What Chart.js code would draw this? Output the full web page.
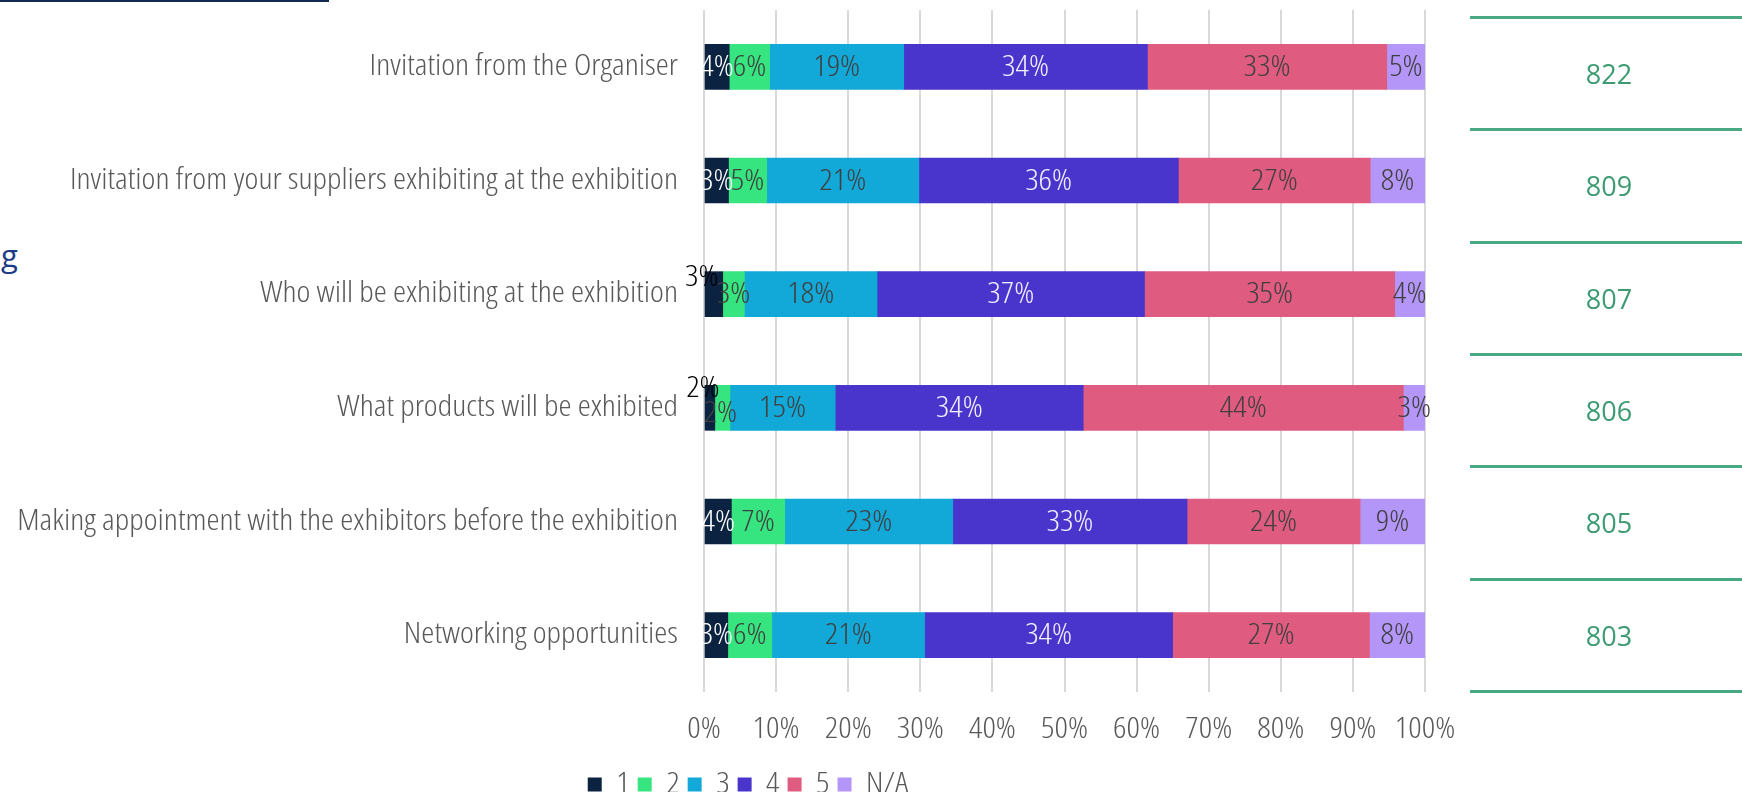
<!DOCTYPE html>
<html>
<head>
<meta charset="utf-8">
<title>Exhibition visit factors</title>
<script src="https://cdn.jsdelivr.net/npm/chart.js@4.4.1/dist/chart.umd.min.js"></script>
<style>
  html, body { margin: 0; padding: 0; background: #ffffff; overflow: hidden; }
  #wrap { position: relative; width: 1742px; height: 792px; overflow: hidden; background: #ffffff; }
  #chart { position: absolute; left: 0; top: 0; }
  .rule { position: absolute; left: 0; top: 0; width: 329px; height: 2px; background: #13294f; }
  .frag { position: absolute; left: 1px; top: 240px; font: 31px/30px 'Open Sans', sans-serif; color: #1f3c88; }
</style>
</head>
<body>
<div id="wrap">
  <div class="rule"></div>
  <div class="frag">g</div>
  <canvas id="chart" width="1742" height="809"></canvas>
</div>
<script>
// Survey statements (top to bottom)
const categories = [
  'Invitation from the Organiser',
  'Invitation from your suppliers exhibiting at the exhibition',
  'Who will be exhibiting at the exhibition',
  'What products will be exhibited',
  'Making appointment with the exhibitors before the exhibition',
  'Networking opportunities'
];

// Rating names shown in the legend
const ratingNames = ['1', '2', '3', '4', '5', 'N/A'];

// Share of answers per rating, in percent
const rating1  = [3.5, 3.4, 2.6, 1.5, 3.8, 3.3];
const rating2  = [5.6, 5.3, 3.0, 2.1, 7.4, 6.1];
const rating3  = [18.6, 21.1, 18.4, 14.6, 23.3, 21.2];
const rating4  = [33.8, 36.0, 37.1, 34.4, 32.5, 34.4];
const rating5  = [33.2, 26.6, 34.7, 44.4, 24.0, 27.3];
const ratingNA = [5.3, 7.6, 4.2, 3.0, 9.0, 7.7];

// Number of respondents per statement
const respondents = [822, 809, 807, 806, 805, 803];

// Value axis ticks
const xTickValues = [0, 10, 20, 30, 40, 50, 60, 70, 80, 90, 100];
const xTickLabels = ['0%', '10%', '20%', '30%', '40%', '50%', '60%', '70%', '80%', '90%', '100%'];

const seriesValues = [rating1, rating2, rating3, rating4, rating5, ratingNA];
const seriesColors = ['#0b2240', '#36e57f', '#12a8d8', '#4a35cc', '#e05b80', '#b496f8'];
const labelColors  = ['#ffffff', '#404040', '#404040', '#f2f0ff', '#404040', '#404040'];

// Small segments whose value label sits beside the bar: [dx, dy, colour]
const labelNudges = {
  '0:2': [-12, -17, '#000000'],
  '0:3': [-7, -20, '#000000'],
  '1:3': [-2, 5, null]
};

// Light narrow face for the chart text, widened slightly when drawn
const textFont = { family: "'Open Sans', sans-serif", size: 29, weight: '300 condensed' };
const TEXT_STRETCH = 1.14;

const canvas = document.getElementById('chart');
const c2d = canvas.getContext('2d');
const nativeFill = c2d.fillText;
const nativeMeasure = c2d.measureText;
c2d.fillText = function (text, x, y) {
  if (this.plainText) return nativeFill.call(this, text, x, y);
  this.save();
  this.translate(x, y);
  this.scale(TEXT_STRETCH, 1);
  nativeFill.call(this, text, 0, 0);
  this.restore();
};
c2d.measureText = function (text) {
  const m = nativeMeasure.call(this, text);
  if (this.plainText) return m;
  return {
    width: m.width * TEXT_STRETCH,
    actualBoundingBoxAscent: m.actualBoundingBoxAscent,
    actualBoundingBoxDescent: m.actualBoundingBoxDescent,
    actualBoundingBoxLeft: m.actualBoundingBoxLeft * TEXT_STRETCH,
    actualBoundingBoxRight: m.actualBoundingBoxRight * TEXT_STRETCH
  };
};

// Value labels inside each bar segment
const segmentLabels = {
  id: 'segmentLabels',
  afterDatasetsDraw(chart) {
    const ctx = chart.ctx;
    ctx.save();
    ctx.font = Chart.helpers.toFontString(Chart.helpers.toFont(textFont));
    ctx.textAlign = 'center';
    ctx.textBaseline = 'middle';
    chart.data.datasets.forEach((ds, di) => {
      const meta = chart.getDatasetMeta(di);
      meta.data.forEach((bar, i) => {
        const v = ds.data[i];
        const nudge = labelNudges[di + ':' + i];
        let x = (bar.x + bar.base) / 2;
        let y = bar.y;
        let color = labelColors[di];
        if (nudge) {
          x += nudge[0];
          y += nudge[1];
          if (nudge[2]) color = nudge[2];
        }
        ctx.fillStyle = color;
        ctx.fillText(Math.round(v) + '%', x, y + 1);
      });
    });
    ctx.restore();
  }
};

// Legend is centred under the bars rather than under the whole label column
const legendPlacement = {
  id: 'legendPlacement',
  afterLayout(chart) {
    if (chart.legend) chart.legend.left = 71;
  }
};

// Respondent counts listed to the right of the bars
const respondentTable = {
  id: 'respondentTable',
  afterDraw(chart) {
    const ctx = chart.ctx;
    const area = chart.chartArea;
    const top = area.top + 7;
    const bottom = area.bottom - 1;
    const left = 1470;
    const right = chart.width;
    const step = (bottom - top) / respondents.length;
    ctx.save();
    ctx.plainText = true;
    ctx.strokeStyle = '#4aa884';
    ctx.lineWidth = 3;
    for (let i = 0; i <= respondents.length; i++) {
      const y = Math.round(top + i * step) + 0.5;
      ctx.beginPath();
      ctx.moveTo(left, y);
      ctx.lineTo(right, y);
      ctx.stroke();
    }
    ctx.fillStyle = '#3d9b72';
    ctx.font = "27px 'Open Sans', sans-serif";
    ctx.textAlign = 'center';
    ctx.textBaseline = 'middle';
    respondents.forEach((n, i) => {
      ctx.fillText(String(n), 1609, top + (i + 0.5) * step + 3);
    });
    ctx.plainText = false;
    ctx.restore();
  }
};

new Chart(canvas, {
  type: 'bar',
  data: {
    labels: categories,
    datasets: ratingNames.map((name, k) => ({
      label: name,
      data: seriesValues[k],
      backgroundColor: seriesColors[k],
      borderWidth: 0,
      barThickness: 45
    }))
  },
  options: {
    indexAxis: 'y',
    responsive: false,
    animation: false,
    layout: { padding: { top: 10, left: 0, right: 317, bottom: 0 } },
    plugins: {
      tooltip: { enabled: false },
      legend: {
        position: 'bottom',
        labels: {
          font: textFont,
          color: '#595959',
          boxWidth: 14,
          boxHeight: 14,
          padding: 8
        }
      }
    },
    scales: {
      x: {
        stacked: true,
        min: 0,
        max: 100,
        afterBuildTicks(scale) { scale.ticks = xTickValues.map(v => ({ value: v })); },
        afterFit(scale) {
          scale.height = 70;
          scale.paddingLeft = 0;
          scale.paddingRight = 0;
        },
        ticks: {
          font: textFont,
          color: '#595959',
          padding: 20,
          maxRotation: 0,
          callback: (v) => xTickLabels[xTickValues.indexOf(v)]
        },
        grid: { color: '#d9d9d9', lineWidth: 2, drawTicks: false },
        border: { display: false }
      },
      y: {
        stacked: true,
        afterFit(scale) {
          scale.width = 704;
          scale.paddingTop = 0;
          scale.paddingBottom = 0;
        },
        ticks: { font: textFont, color: '#595959', padding: 26 },
        grid: { display: false, drawTicks: false },
        border: { display: false }
      }
    }
  },
  plugins: [segmentLabels, legendPlacement, respondentTable]
});
</script>
</body>
</html>
